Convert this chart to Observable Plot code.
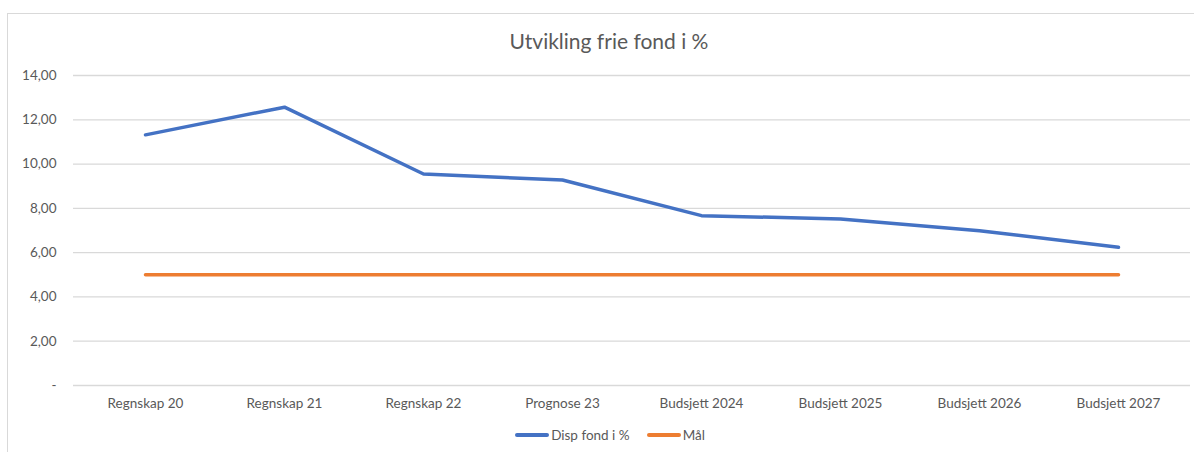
<!DOCTYPE html>
<html>
<head>
<meta charset="utf-8">
<script src="https://cdn.jsdelivr.net/npm/d3@7"></script>
<script src="https://cdn.jsdelivr.net/npm/@observablehq/plot@0.6"></script>
<style>
  html, body { margin: 0; padding: 0; background: #fff; }
  body { width: 1194px; height: 452px; overflow: hidden; position: relative; font-family: Lato, "Open Sans", sans-serif; }
  #frame { position: absolute; left: 7px; top: 13px; width: 1200px; height: 460px; border: 1px solid #d9d9d9; box-sizing: border-box; }
  #title { position: absolute; left: 0; top: 28px; width: 1218px; text-align: center; font-size: 21px; color: #595959; }
  #chart { position: absolute; left: 8px; top: 60px; }
  #legend { position: absolute; top: 427px; left: 10px; width: 1200px; display: flex; justify-content: center; gap: 17px; font-size: 13.5px; color: #595959; }
  .item { display: flex; align-items: center; }
  .sw { width: 34px; height: 3.5px; border-radius: 2px; margin-right: 2px; }
</style>
</head>
<body>
<div id="frame"></div>
<div id="title">Utvikling frie fond i %</div>
<div id="chart"></div>
<div id="legend"></div>
<script>
const categories = ["Regnskap 20", "Regnskap 21", "Regnskap 22", "Prognose 23", "Budsjett 2024", "Budsjett 2025", "Budsjett 2026", "Budsjett 2027"];
const dispFond = [11.32, 12.57, 9.55, 9.28, 7.67, 7.52, 6.99, 6.24];
const maal = [5.0, 5.0, 5.0, 5.0, 5.0, 5.0, 5.0, 5.0];
const seriesNames = ["Disp fond i %", "Mål"];
const seriesColors = ["#4472C4", "#ED7D31"];
const yTicks = [0, 2, 4, 6, 8, 10, 12, 14];

const rows = [];
categories.forEach((c, i) => {
  rows.push({cat: c, value: dispFond[i], series: seriesNames[0]});
  rows.push({cat: c, value: maal[i], series: seriesNames[1]});
});

const fmt = v => v === 0 ? "-" : v.toFixed(2).replace(".", ",");

const plot = Plot.plot({
  width: 1186,
  height: 365,
  marginLeft: 65,
  marginRight: 4,
  marginTop: 15,
  marginBottom: 40,
  style: {fontFamily: "Lato, 'Open Sans', sans-serif", fontSize: "13.5px", color: "#595959", background: "transparent"},
  x: {type: "point", domain: categories, padding: 0.5, label: null},
  y: {domain: [0, 14], label: null},
  color: {domain: seriesNames, range: seriesColors},
  marks: [
    Plot.ruleY(yTicks, {stroke: "#d9d9d9", strokeWidth: 1.3}),
    Plot.axisY({ticks: yTicks, tickFormat: fmt, tickSize: 0, tickPadding: 17, label: null, fill: "#595959"}),
    Plot.axisX({tickSize: 0, tickPadding: 13, label: null, fill: "#595959"}),
    Plot.line(rows, {x: "cat", y: "value", z: "series", stroke: "series", strokeWidth: 3.5, strokeLinecap: "round", strokeLinejoin: "round"})
  ]
});
document.getElementById("chart").appendChild(plot);

const legend = document.getElementById("legend");
seriesNames.forEach((n, i) => {
  const it = document.createElement("div");
  it.className = "item";
  const sw = document.createElement("div");
  sw.className = "sw";
  sw.style.background = seriesColors[i];
  it.appendChild(sw);
  const t = document.createElement("span");
  t.textContent = n;
  it.appendChild(t);
  legend.appendChild(it);
});
</script>
</body>
</html>
